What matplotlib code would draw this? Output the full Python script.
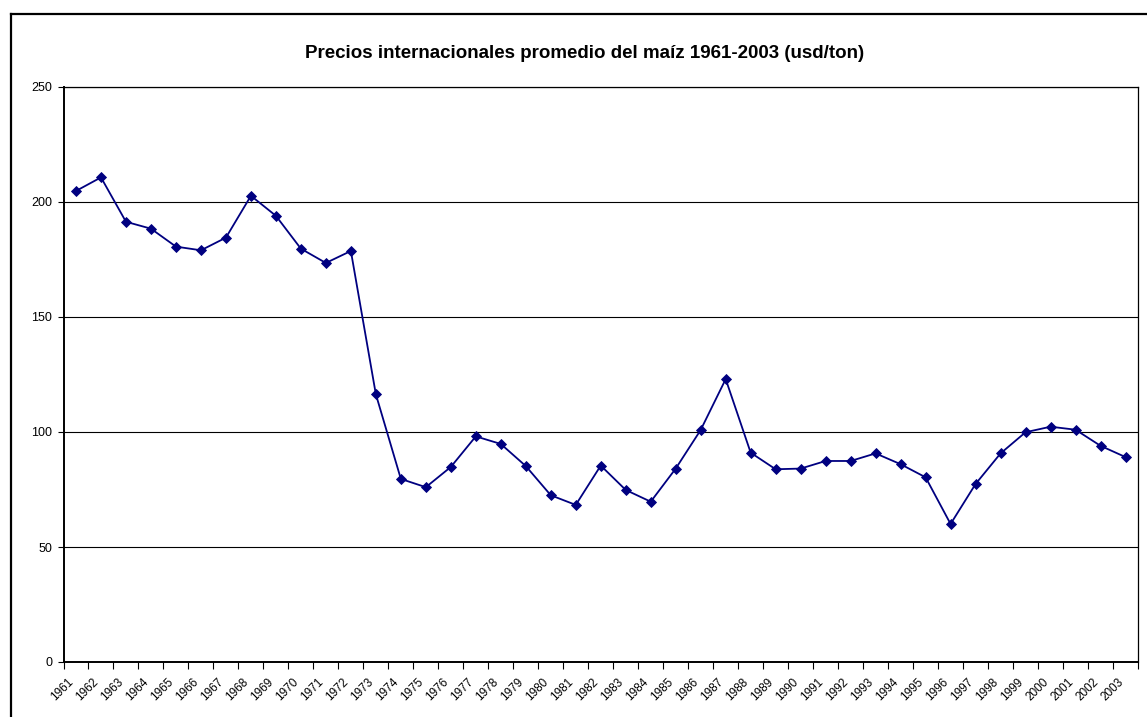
import matplotlib
matplotlib.use("Agg")
import matplotlib.pyplot as plt
from matplotlib.lines import Line2D
from matplotlib.transforms import ScaledTranslation
import numpy as np

years = [str(y) for y in range(1961, 2004)]
prices = [204.8, 210.7, 191.4, 188.4, 180.6, 179.0, 184.5, 202.7, 194.0, 179.7,
          173.5, 178.7, 116.4, 79.6, 76.0, 84.8, 98.1, 94.8, 85.2, 72.5,
          68.3, 85.4, 74.8, 69.7, 84.1, 100.9, 123.0, 91.0, 83.8, 84.1,
          87.4, 87.4, 90.7, 86.0, 80.3, 60.0, 77.4, 90.7, 99.9, 102.3,
          101.0, 94.0, 89.1]
y_ticks = [0, 50, 100, 150, 200, 250]
title = "Precios internacionales promedio del maíz 1961-2003 (usd/ton)"

plt.rcParams['font.family'] = ['Liberation Sans', 'DejaVu Sans']

W, H = 1147, 717
fig = plt.figure(figsize=(W / 100, H / 100), dpi=100)
fig.patch.set_facecolor('white')

L, R, T, B = 63.5, 1138, 87, 662
ax = fig.add_axes([L / W, 1 - B / H, (R - L) / W, (B - T) / H])

x = np.arange(len(years))
ax.plot(x, prices, color='#000080', lw=1.3, marker='D', ms=5.0,
        mfc='#000080', mec='#000080', mew=0.6, zorder=3, clip_on=False)

ax.set_xlim(-0.5, len(years) - 0.5)
ax.set_ylim(0, 250)
ax.set_yticks(y_ticks)
ax.set_yticklabels([str(v) for v in y_ticks], fontsize=9)
ax.yaxis.grid(True, color='black', lw=0.8)
ax.set_axisbelow(True)

ax.set_xticks(x)
ax.set_xticklabels(years, fontsize=8.5, rotation=45, ha='right',
                   rotation_mode='anchor', va='center')
ax.set_xticks(np.arange(-0.5, len(years)), minor=True)
ax.tick_params(axis='x', which='major', length=0, pad=13)
ax.tick_params(axis='x', which='minor', length=5, width=0.8, direction='out')
ax.tick_params(axis='y', length=4, width=0.8, direction='out', pad=4)
shift = ScaledTranslation(-4 / 100, 0, fig.dpi_scale_trans)
for lbl in ax.get_xticklabels():
    lbl.set_transform(lbl.get_transform() + shift)

for side in ['top', 'right']:
    ax.spines[side].set_linewidth(0.9)
for side in ['left', 'bottom']:
    ax.spines[side].set_linewidth(1.4)
for s in ax.spines.values():
    s.set_color('black')

fig.text(585 / W, 1 - 53 / H, title, fontsize=13.5, fontweight='bold',
         ha='center', va='center')

# chart-area border (left and top edges visible)
x0 = 11 / W
y0 = 1 - 14 / H
fig.add_artist(Line2D([x0, x0], [-0.1, y0], transform=fig.transFigure,
                      color='black', lw=1.6))
fig.add_artist(Line2D([x0, 1.1], [y0, y0], transform=fig.transFigure,
                      color='black', lw=1.6))

fig.savefig('out.png', dpi=100)
